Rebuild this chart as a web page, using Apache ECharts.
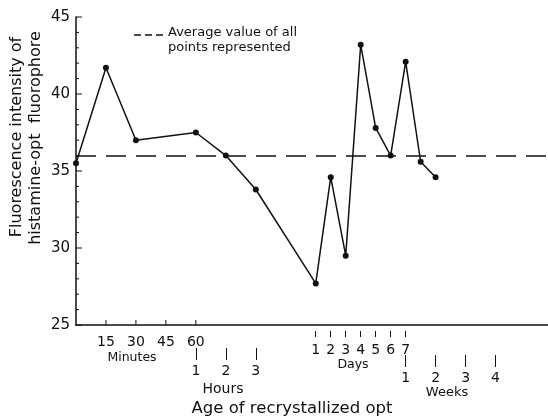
<!DOCTYPE html>
<html>
<head>
<meta charset="utf-8">
<script src="https://cdn.jsdelivr.net/npm/echarts@6/dist/echarts.min.js"></script>
<style>
  html, body { margin: 0; padding: 0; background: #fff; }
  #chart { width: 548px; height: 417px; }
</style>
</head>
<body>
<div id="chart"></div>
<script>
// Age of the recrystallized opt for each measurement: [unit, amount]
const ageUnits   = ['min', 'min', 'min', 'h', 'h', 'h', 'd', 'd', 'd', 'd', 'd', 'd', 'd', 'w', 'w'];
const ageAmounts = [0, 15, 30, 1, 2, 3, 1, 2, 3, 4, 5, 6, 7, 1.5, 2];
// Fluorescence intensity of the histamine-opt fluorophore
const fluorescence = [35.5, 41.7, 37.0, 37.5, 36.0, 33.8, 27.7, 34.6, 29.5, 43.2, 37.8, 36.0, 42.1, 35.6, 34.6];
// Average value of all points represented
const averageValue = 36.0;

// Tick labels of the segmented time axis
const minuteTicks = [15, 30, 45, 60];
const hourTicks   = [1, 2, 3];
const dayTicks    = [1, 2, 3, 4, 5, 6, 7];
const weekTicks   = [1, 2, 3, 4];
// Intensity axis: labelled ticks and unit minor ticks
const intensityTicks = [25, 30, 35, 40, 45];
const intensityMinor = [26, 27, 28, 29, 31, 32, 33, 34, 36, 37, 38, 39, 41, 42, 43, 44];

// Segmented (piecewise) age scale: minutes, hours, days and weeks each get their own spacing
function agePos(unit, v) {
  if (unit === 'min') return v / 7.5;
  if (unit === 'h') return 6 + 2 * v;
  if (unit === 'd') return 15 + v;
  return 20 + 2 * v; // weeks
}

const points = ageAmounts.map((a, i) => [agePos(ageUnits[i], a), fluorescence[i]]);

const FONT = 'DejaVu Sans';
const INK = '#111';
const X_MIN = 0, X_MAX = 31.5;
const Y_MIN = 25, Y_MAX = 45;

// Bottom axis carrying one row of tick marks / tick labels
function tickAxis(unit, ticks, opts) {
  const pos = ticks.map(t => agePos(unit, t));
  const names = {};
  ticks.forEach((t, i) => { names[pos[i].toFixed(3)] = String(t); });
  return {
    type: 'value', gridIndex: 0, position: 'bottom',
    min: X_MIN, max: X_MAX,
    offset: opts.offset,
    axisLine: { show: opts.line === true, onZero: false, lineStyle: { color: INK, width: 1.5 } },
    axisTick: {
      show: opts.tickLen > 0, customValues: pos, length: opts.tickLen,
      lineStyle: { color: INK, width: 1 }
    },
    axisLabel: {
      show: true, customValues: pos, margin: opts.margin,
      fontFamily: FONT, fontSize: 14, color: INK,
      formatter: v => names[Number(v).toFixed(3)] || ''
    },
    splitLine: { show: false },
    minorTick: { show: false }
  };
}

// Inward tick marks: [axis, value, length in px]
const innerTicks = []
  .concat(intensityTicks.map(v => ['y', v, 6]))
  .concat(intensityMinor.map(v => ['y', v, 3]))
  .concat(minuteTicks.map(m => ['x', agePos('min', m), 5]));

function renderTick(params, api) {
  const axis = api.value(0) === 0 ? 'y' : 'x';
  const v = api.value(1);
  const len = api.value(2);
  if (axis === 'y') {
    const p = api.coord([X_MIN, v]);
    return { type: 'line', shape: { x1: p[0], y1: p[1], x2: p[0] + len, y2: p[1] },
      style: { stroke: INK, lineWidth: 1 } };
  }
  const p = api.coord([v, Y_MIN]);
  return { type: 'line', shape: { x1: p[0], y1: p[1], x2: p[0], y2: p[1] - len },
    style: { stroke: INK, lineWidth: 1 } };
}

function caption(text, x, y, size) {
  return { type: 'text', x: x, y: y,
    style: { text: text, font: size + 'px ' + FONT, fill: INK, textAlign: 'center', textVerticalAlign: 'middle' } };
}

const chart = echarts.init(document.getElementById('chart'), null, { renderer: 'canvas' });

chart.setOption({
  animation: false,
  backgroundColor: '#fff',
  grid: { left: 76, top: 17, width: 472.5, bottom: 92, containLabel: false },
  xAxis: [
    tickAxis('min', minuteTicks, { offset: 0, line: true, tickLen: 0, margin: 10 }),
    tickAxis('d', dayTicks,      { offset: 6, tickLen: 6, margin: 12 }),
    tickAxis('h', hourTicks,     { offset: 23, tickLen: 12, margin: 16 }),
    tickAxis('w', weekTicks,     { offset: 30, tickLen: 12, margin: 16 })
  ],
  yAxis: {
    type: 'value', min: Y_MIN, max: Y_MAX, interval: 5, position: 'left',
    axisLine: { show: true, onZero: false, lineStyle: { color: INK, width: 1.5 } },
    axisTick: { show: false },
    axisLabel: { margin: 6, fontFamily: FONT, fontSize: 15, color: INK },
    splitLine: { show: false }
  },
  series: [{
    type: 'custom',
    xAxisIndex: 0,
    yAxisIndex: 0,
    silent: true,
    clip: false,
    data: innerTicks.map(t => [t[0] === 'y' ? 0 : 1, t[1], t[2]]),
    renderItem: renderTick,
    z: 3
  }, {
    type: 'line',
    data: points,
    xAxisIndex: 0,
    yAxisIndex: 0,
    symbol: 'circle',
    symbolSize: 6,
    lineStyle: { color: INK, width: 1.5 },
    itemStyle: { color: INK },
    markLine: {
      silent: true,
      symbol: ['none', 'none'],
      label: { show: false },
      lineStyle: { color: INK, width: 1.5, type: [20, 10] },
      data: [{ yAxis: averageValue }]
    }
  }],
  graphic: [
    // Legend for the dashed average line
    { type: 'line', shape: { x1: 134, y1: 35, x2: 163, y2: 35 },
      style: { stroke: INK, lineWidth: 1.3, lineDash: [7, 4] } },
    { type: 'text', left: 168, top: 25,
      style: { text: 'Average value of all\npoints represented', font: '13px ' + FONT, fill: INK, lineHeight: 15 } },
    // Y axis title (two lines, rotated)
    { type: 'text', x: 17, y: 137, rotation: Math.PI / 2,
      style: { text: 'Fluorescence intensity of', font: '16px ' + FONT, fill: INK, textAlign: 'center', textVerticalAlign: 'middle' } },
    { type: 'text', x: 36, y: 138, rotation: Math.PI / 2,
      style: { text: 'histamine-opt  fluorophore', font: '16px ' + FONT, fill: INK, textAlign: 'center', textVerticalAlign: 'middle' } },
    // Segment names under the time axis
    caption('Minutes', 132, 358, 12.5),
    caption('Hours', 223, 389, 14),
    caption('Days', 353, 365, 12.5),
    caption('Weeks', 447, 393, 13),
    // X axis title
    caption('Age of recrystallized opt', 292, 409, 16.5)
  ]
});
</script>
</body>
</html>
